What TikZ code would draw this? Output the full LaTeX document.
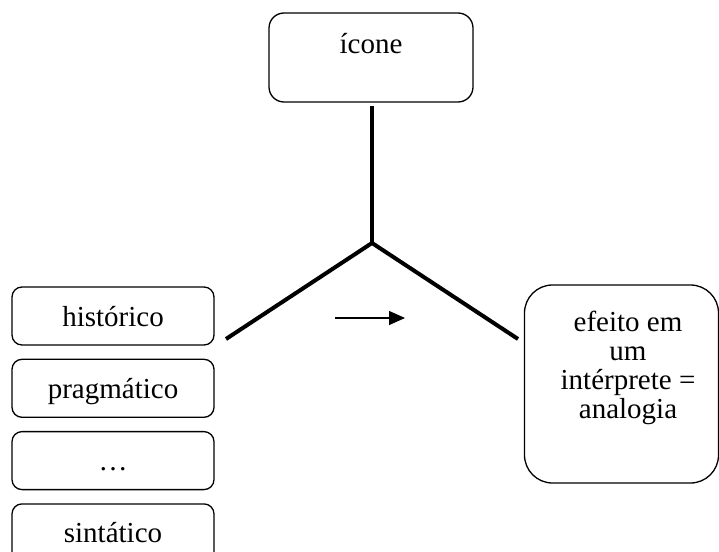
\documentclass[tikz,border=0pt]{standalone}
\usepackage{fontspec}
\setmainfont{Liberation Serif}
\usetikzlibrary{positioning,arrows.meta}

\begin{document}
\begin{tikzpicture}[
            x=1pt, y=-1pt,
            node distance=13pt,
            every node/.style={font=\fontsize{29}{29}\selectfont, inner sep=0pt},
            facet/.style={draw, line width=1.3pt, rounded corners=10pt, minimum width=202pt, text height=39pt, text depth=19pt},
            leg/.style={line width=4pt}
            ]
            \useasboundingbox (0,0) rectangle (719,551);
            \node[draw, line width=1.3pt, rounded corners=15pt, minimum width=204pt, text height=40pt, text depth=49pt] (icone) at (371,57.5) {ícone};
            \node[facet] (hist) at (113,316) {histórico};
            \node[facet, below=of hist] (prag) {pragmático};
            \node[facet, below=of prag] (etc) {\dots};
            \node[facet, below=of etc] (sint) {sintático};
            \node[draw, line width=1.3pt, rounded corners=28pt, minimum width=194pt, text height=46pt, text depth=152pt] (efeito) at (621.5,384)
              {\hspace*{13pt}\parbox[t]{180pt}{\centering efeito em\\ um\\ intérprete =\\ analogia}};
            \coordinate (jn) at (372,243);
            \coordinate (lend) at (226,339);
            \coordinate (rend) at (518,339);
            \draw[leg] ([shift={(1,3)}]icone.south) -- (jn);
            \draw[leg] (lend) -- (jn) -- (rend);
            \coordinate (arrS) at (335,318);
            \coordinate (arrE) at (405,318);
            \draw[line width=1.3pt, -{Triangle[length=16pt,width=14pt]}] (arrS) -- (arrE);
\end{tikzpicture}
\end{document}
